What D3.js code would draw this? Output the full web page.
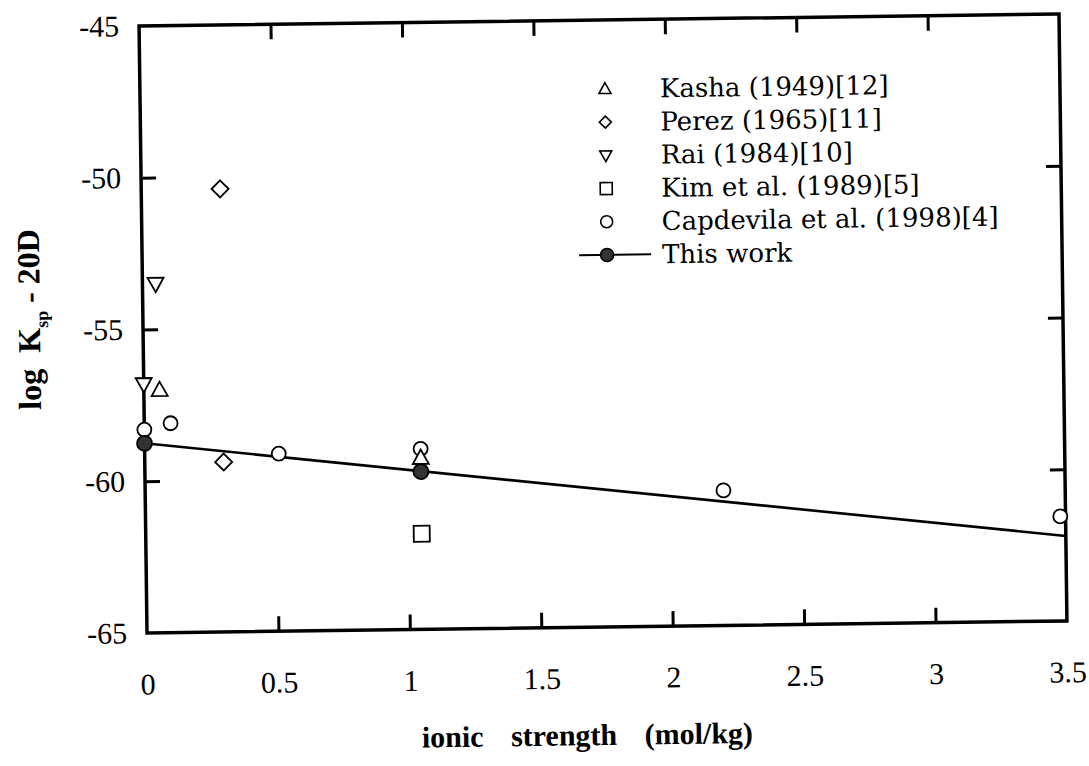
<!DOCTYPE html>
<html>
<head>
<meta charset="utf-8">
<script src="https://cdn.jsdelivr.net/npm/d3@7"></script>
<style>
  body { margin: 0; background: #fff; }
  svg { display: block; }
</style>
</head>
<body>
<svg id="chart" width="1089" height="766"></svg>
<script>
// Axis ticks
const xTicks = [0, 0.5, 1, 1.5, 2, 2.5, 3, 3.5];
const yTicks = [-45, -50, -55, -60, -65];

// Literature data: ionic strength (mol/kg) vs log Ksp - 20D
const kashaX = [0.06, 1.05];
const kashaY = [-57.0, -59.35];
const perezX = [0.30, 0.30];
const perezY = [-50.4, -59.4];
const raiX = [0.0, 0.05];
const raiY = [-56.8, -53.5];
const kimX = [1.05];
const kimY = [-61.85];
const capX = [0.0, 0.10, 0.51, 1.05, 2.20, 3.48];
const capY = [-58.3, -58.1, -59.15, -59.05, -60.55, -61.55];

// This work: measured points and the linear fit
const workX = [0.0, 1.05];
const workY = [-58.75, -59.8];
const fitX = [0.0, 3.5];
const fitY = [-58.75, -62.2];

const legendLabels = [
  "Kasha (1949)[12]",
  "Perez (1965)[11]",
  "Rai (1984)[10]",
  "Kim et al. (1989)[5]",
  "Capdevila et al. (1998)[4]",
  "This work"
];

// Plot frame
const frameLeft = 143, frameTop = 20, frameW = 920, frameH = 607;
const cx = frameLeft + frameW / 2, cy = frameTop + frameH / 2;

const x = d3.scaleLinear().domain([0, 3.5]).range([frameLeft, frameLeft + frameW]);
const y = d3.scaleLinear().domain([-65, -45]).range([frameTop + frameH, frameTop]);

// Marker shapes; "size" is used as the half-width of the marker
const triUp = { draw(c, r) { c.moveTo(0, -r * 1.05); c.lineTo(r, r * 0.75); c.lineTo(-r, r * 0.75); c.closePath(); } };
const triDown = { draw(c, r) { c.moveTo(0, r * 1.05); c.lineTo(r, -r * 0.75); c.lineTo(-r, -r * 0.75); c.closePath(); } };
const diamond = { draw(c, r) { c.moveTo(0, -r); c.lineTo(r, 0); c.lineTo(0, r); c.lineTo(-r, 0); c.closePath(); } };
const square = { draw(c, r) { c.rect(-r, -r, 2 * r, 2 * r); } };
const circle = { draw(c, r) { c.moveTo(r, 0); c.arc(0, 0, r, 0, 2 * Math.PI); } };

const svg = d3.select("#chart");
const g = svg.append("g").attr("transform", `rotate(-0.75, ${cx}, ${cy})`);

const serif = "'Liberation Serif', 'Times New Roman', serif";
const legendFont = "'DejaVu Serif', serif";
const fmt = d => String(d);

// Ticks (inward) and tick labels
const tickLen = 15;
const xAxisB = d3.axisBottom(x).tickValues(xTicks).tickSize(-tickLen).tickPadding(40).tickFormat(fmt);
const xAxisT = d3.axisTop(x).tickValues(xTicks.slice(1, -1)).tickSize(-tickLen).tickFormat("");
const yAxisL = d3.axisLeft(y).tickValues(yTicks).tickSize(-tickLen).tickPadding(20).tickFormat(fmt);
const yAxisR = d3.axisRight(y).tickValues(yTicks.slice(1, -1)).tickSize(-tickLen).tickFormat("");

function styleAxis(sel) {
  sel.attr("font-family", null).attr("font-size", null);
  sel.select(".domain").remove();
  sel.selectAll(".tick line").attr("stroke", "#000").attr("stroke-width", 3);
  sel.selectAll(".tick text").attr("fill", "#000")
    .attr("font-family", serif).attr("font-size", 30);
}

g.append("g").attr("transform", `translate(0,${frameTop + frameH})`).call(xAxisB).call(styleAxis)
  .call(s => s.selectAll(".tick").filter(d => d === 0 || d === 3.5).select("line").remove());
g.append("g").attr("transform", `translate(0,${frameTop})`).call(xAxisT).call(styleAxis);
g.append("g").attr("transform", `translate(${frameLeft},0)`).call(yAxisL).call(styleAxis)
  .call(s => s.selectAll(".tick").filter(d => d === -45 || d === -65).select("line").remove());
g.append("g").attr("transform", `translate(${frameLeft + frameW},0)`).call(yAxisR).call(styleAxis);

// Frame
g.append("rect")
  .attr("x", frameLeft).attr("y", frameTop).attr("width", frameW).attr("height", frameH)
  .attr("fill", "none").attr("stroke", "#000").attr("stroke-width", 3.5);

// Fit line
const fitData = fitX.map((v, i) => [v, fitY[i]]);
g.append("path")
  .datum(fitData)
  .attr("d", d3.line().x(d => x(d[0])).y(d => y(d[1])))
  .attr("fill", "none").attr("stroke", "#000").attr("stroke-width", 2.6);

function drawSeries(xs, ys, type, r, fill) {
  g.append("g").selectAll("path")
    .data(xs.map((v, i) => [v, ys[i]]))
    .join("path")
    .attr("transform", d => `translate(${x(d[0])},${y(d[1])})`)
    .attr("d", d3.symbol().type(type).size(r))
    .attr("fill", fill).attr("stroke", "#000").attr("stroke-width", 1.8);
}

drawSeries(capX, capY, circle, 7, "#fff");
drawSeries(kashaX, kashaY, triUp, 8, "#fff");
drawSeries(perezX, perezY, diamond, 8.5, "#fff");
drawSeries(raiX, raiY, triDown, 8, "#fff");
drawSeries(kimX, kimY, square, 8, "#fff");
drawSeries(workX, workY, circle, 7.5, "#333");

// Legend
const legendTypes = [triUp, diamond, triDown, square, circle, circle];
const legendSizes = [6, 6, 6, 6, 6, 6.5];
const legendFills = ["#fff", "#fff", "#fff", "#fff", "#fff", "#333"];
const lgX = 608, lgTextX = 663, lgY0 = 89, lgDy = 33.2;
const lg = g.append("g");
legendLabels.forEach((lab, i) => {
  const yy = lgY0 + i * lgDy;
  if (i === legendLabels.length - 1) {
    lg.append("line").attr("x1", 580).attr("x2", 652).attr("y1", yy).attr("y2", yy)
      .attr("stroke", "#000").attr("stroke-width", 2);
  }
  lg.append("path")
    .attr("transform", `translate(${lgX},${yy})`)
    .attr("d", d3.symbol().type(legendTypes[i]).size(legendSizes[i]))
    .attr("fill", legendFills[i]).attr("stroke", "#000").attr("stroke-width", 1.6);
  lg.append("text")
    .attr("x", lgTextX).attr("y", yy + 9)
    .style("font-family", legendFont).style("font-size", "26px")
    .text(lab);
});

// Axis titles
g.append("text")
  .attr("x", 582).attr("y", 745)
  .attr("text-anchor", "middle")
  .style("font-family", serif).style("font-size", "30px").style("font-weight", "bold")
  .style("word-spacing", "20px")
  .text("ionic strength (mol/kg)");

const yt = g.append("text")
  .attr("transform", "translate(40,312) rotate(-90)")
  .attr("text-anchor", "middle")
  .style("font-family", serif).style("font-size", "32px").style("font-weight", "bold");
yt.append("tspan").text("log\u2002K");
yt.append("tspan").attr("dy", 8).style("font-size", "18px").text("sp");
yt.append("tspan").attr("dy", -8).text(" - 20D");
</script>
</body>
</html>
